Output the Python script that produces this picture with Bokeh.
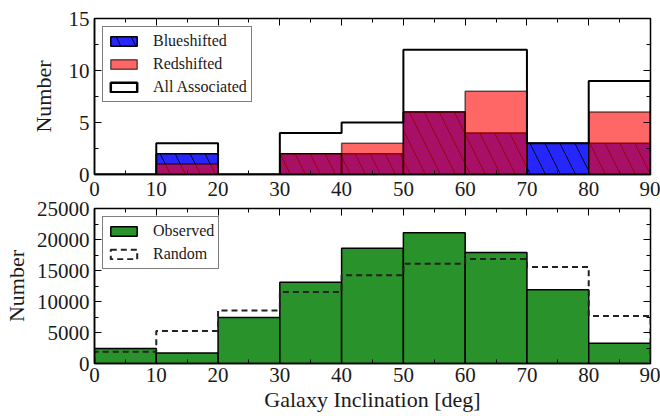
from bokeh.plotting import figure
from bokeh.layouts import column
from bokeh.models import (ColumnDataSource, Range1d, FixedTicker, LinearAxis,
                          Legend, LegendItem)
from bokeh.embed import file_html
from bokeh.resources import INLINE

# ---------------- data ----------------
bin_edges = [0, 10, 20, 30, 40, 50, 60, 70, 80, 90]
blueshifted = [0, 2, 0, 2, 2, 6, 4, 3, 3]
redshifted = [0, 1, 0, 2, 3, 6, 8, 0, 6]
all_associated = [0, 3, 0, 4, 5, 12, 12, 3, 9]
observed = [2400, 1700, 7400, 13100, 18600, 21100, 17900, 11900, 3250]
random_counts = [1900, 5250, 8550, 11550, 14250, 16100, 16850, 15550, 7650]

x_ticks = [0, 10, 20, 30, 40, 50, 60, 70, 80, 90]
x_minor = [5, 15, 25, 35, 45, 55, 65, 75, 85]
top_y_ticks = [0, 5, 10, 15]
top_y_minor = [2.5, 7.5, 12.5]
bot_y_ticks = [0, 5000, 10000, 15000, 20000, 25000]
bot_y_minor = [2500, 7500, 12500, 17500, 22500]

FONT = "Liberation Serif"
TXT = "#1a1a1a"
NAN = float("nan")
left = bin_edges[:-1]
right = bin_edges[1:]


def step_xy(counts):
    xs = [bin_edges[0]] + list(bin_edges)
    ys = [0] + list(counts) + [0]
    return xs, ys


def style(p, yt, ym, xstandoff):
    p.xgrid.visible = False
    p.ygrid.visible = False
    p.outline_line_color = "black"
    p.outline_line_width = 1.5
    p.border_fill_alpha = 0
    for ax in p.xaxis:
        ax.ticker = FixedTicker(ticks=x_ticks, minor_ticks=x_minor)
    for ax in p.yaxis:
        ax.ticker = FixedTicker(ticks=yt, minor_ticks=ym)
    for ax in p.axis:
        ax.axis_line_color = "black"
        ax.axis_line_width = 1.5
        ax.major_tick_in = 7
        ax.major_tick_out = 0
        ax.minor_tick_in = 4
        ax.minor_tick_out = 0
        ax.major_tick_line_color = "black"
        ax.minor_tick_line_color = "black"
        ax.major_label_text_font = FONT
        ax.major_label_text_font_size = "21px"
        ax.major_label_text_color = TXT
        ax.axis_label_text_font = FONT
        ax.axis_label_text_font_size = "22px"
        ax.axis_label_text_font_style = "normal"
        ax.axis_label_text_color = TXT
    p.xaxis.major_label_standoff = xstandoff
    p.yaxis.major_label_standoff = 5
    # mirrored axes (ticks only)
    ra = LinearAxis(ticker=FixedTicker(ticks=yt, minor_ticks=ym))
    ta = LinearAxis(ticker=FixedTicker(ticks=x_ticks, minor_ticks=x_minor))
    for ax in (ra, ta):
        ax.axis_line_color = None
        ax.major_label_text_font_size = "0px"
        ax.major_label_standoff = 0
        ax.major_tick_in = 7
        ax.major_tick_out = 0
        ax.minor_tick_in = 4
        ax.minor_tick_out = 0
        ax.major_tick_line_color = "black"
        ax.minor_tick_line_color = "black"
    p.add_layout(ra, "right")
    p.add_layout(ta, "above")


# ---------------- top panel ----------------
top = figure(width=660, height=204, x_range=Range1d(0, 90), y_range=Range1d(0, 15),
             output_backend="svg", toolbar_location=None,
             min_border_left=92, min_border_right=10, min_border_top=18,
             min_border_bottom=30)
src_top = ColumnDataSource(dict(left=left, right=right, blue=blueshifted,
                                red=redshifted, bottom=[0] * len(left)))
r_blue = top.quad(left="left", right="right", top="blue", bottom="bottom", source=src_top,
                  fill_color="blue", fill_alpha=0.85, line_color="black", line_width=1.5,
                  hatch_pattern="\\", hatch_color="black", hatch_alpha=0.85,
                  hatch_scale=30, hatch_weight=1)
r_red = top.quad(left="left", right="right", top="red", bottom="bottom", source=src_top,
                 fill_color="red", fill_alpha=0.6, line_color="black", line_alpha=0.6,
                 line_width=1.5)
sx, sy = step_xy(all_associated)
top.step(x=sx, y=sy, mode="after", line_color="black", line_width=2)
# legend-only swatch (NaN geometry, never drawn in the plot)
dummy_all = top.quad(left=[NAN], right=[NAN], top=[NAN], bottom=[NAN], fill_color="white",
                     line_color="black", line_width=2.5)
top.yaxis.axis_label = "Number"
top.yaxis.axis_label_standoff = 10
style(top, top_y_ticks, top_y_minor, 7)
leg_top = Legend(items=[LegendItem(label="Blueshifted", renderers=[r_blue]),
                        LegendItem(label="Redshifted", renderers=[r_red]),
                        LegendItem(label="All Associated", renderers=[dummy_all])],
                 location="top_left")
top.add_layout(leg_top)

# ---------------- bottom panel ----------------
bot = figure(width=660, height=221, x_range=Range1d(0, 90), y_range=Range1d(0, 25000),
             output_backend="svg", toolbar_location=None,
             min_border_left=92, min_border_right=10, min_border_top=13,
             min_border_bottom=53)
bot.margin = (-9, 0, 0, 0)
src_bot = ColumnDataSource(dict(left=left, right=right, obs=observed,
                                bottom=[0] * len(left)))
r_obs = bot.quad(left="left", right="right", top="obs", bottom="bottom", source=src_bot,
                 fill_color="#2a922a", line_color="black", line_width=1.5)
rx, ry = step_xy(random_counts)
bot.step(x=rx, y=ry, mode="after", line_color="#222222", line_width=2, line_dash="6 4")
dummy_rand = bot.quad(left=[NAN], right=[NAN], top=[NAN], bottom=[NAN], fill_color=None,
                      line_color="#222222", line_width=2, line_dash="6 4")
bot.yaxis.axis_label = "Number"
bot.yaxis.axis_label_standoff = 5
bot.xaxis.axis_label = "Galaxy Inclination [deg]"
bot.xaxis.axis_label_standoff = 2
style(bot, bot_y_ticks, bot_y_minor, 4)
leg_bot = Legend(items=[LegendItem(label="Observed", renderers=[r_obs]),
                        LegendItem(label="Random", renderers=[dummy_rand])],
                 location="top_left")
bot.add_layout(leg_bot)

for lg in (leg_top, leg_bot):
    lg.margin = 8
    lg.padding = 4
    lg.spacing = 3
    lg.glyph_width = 33
    lg.glyph_height = 12
    lg.label_height = 20
    lg.label_standoff = 13
    lg.label_text_font = FONT
    lg.label_text_font_size = "16px"
    lg.label_text_color = TXT
    lg.border_line_color = "black"
    lg.border_line_width = 1
    lg.background_fill_color = "white"
    lg.background_fill_alpha = 1

layout = column(top, bot, spacing=0)
open("out.html", "w").write(file_html(layout, INLINE))
